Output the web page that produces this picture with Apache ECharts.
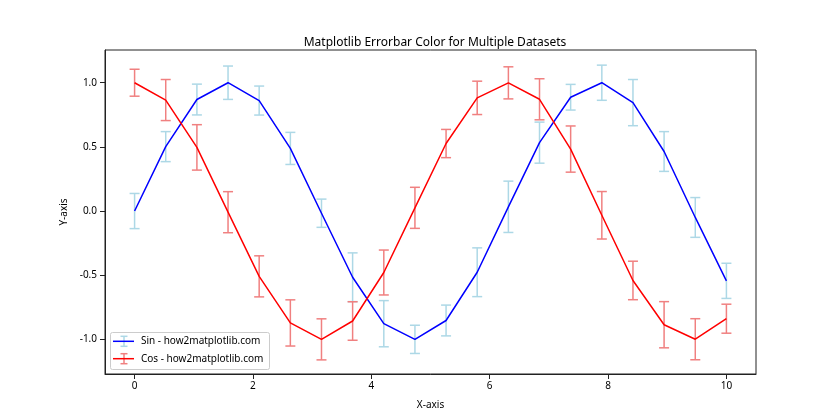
<!DOCTYPE html>
<html><head><meta charset="utf-8">
<script src="https://cdn.jsdelivr.net/npm/echarts@6/dist/echarts.min.js"></script>
<style>html,body{margin:0;padding:0;background:#fff}#c{width:840px;height:420px}</style>
</head><body><div id="c"></div>
<script>
var xValues = [0, 0.526, 1.053, 1.579, 2.105, 2.632, 3.158, 3.684, 4.211, 4.737, 5.263, 5.789, 6.316, 6.842, 7.368, 7.895, 8.421, 8.947, 9.474, 10];
var sinValues = [0, 0.502, 0.869, 1.0, 0.861, 0.488, -0.017, -0.516, -0.878, -1.0, -0.853, -0.477, 0.033, 0.533, 0.887, 1.0, 0.845, 0.464, -0.050, -0.544];
var cosValues = [1.0, 0.865, 0.496, -0.009, -0.509, -0.872, -1.0, -0.857, -0.479, 0.025, 0.526, 0.882, 0.999, 0.871, 0.483, -0.033, -0.541, -0.886, -0.999, -0.839];
var sinErrors = [0.137, 0.117, 0.12, 0.13, 0.113, 0.125, 0.11, 0.19, 0.18, 0.11, 0.12, 0.19, 0.2, 0.16, 0.10, 0.137, 0.18, 0.155, 0.155, 0.137];
var cosErrors = [0.105, 0.16, 0.177, 0.16, 0.16, 0.18, 0.16, 0.15, 0.175, 0.16, 0.11, 0.13, 0.125, 0.16, 0.18, 0.185, 0.15, 0.18, 0.16, 0.113];
var xTicks = [0, 2, 4, 6, 8, 10];
var yTicks = [-1.0, -0.5, 0.0, 0.5, 1.0];
var seriesNames = ['Sin - how2matplotlib.com', 'Cos - how2matplotlib.com'];

var FONT = 'Noto Sans';
function pairs(ys) { return xValues.map(function (x, i) { return [x, ys[i]]; }); }
function errData(ys, es) { return xValues.map(function (x, i) { return [x, ys[i], es[i]]; }); }
function errRender(color) {
  return function (params, api) {
    var x = api.value(0), y = api.value(1), e = api.value(2);
    var top = api.coord([x, y + e]), bot = api.coord([x, y - e]);
    var hw = 5;
    var st = { stroke: color, lineWidth: 1.5 };
    return { type: 'group', children: [
      { type: 'line', shape: { x1: top[0], y1: top[1], x2: bot[0], y2: bot[1] }, style: st },
      { type: 'line', shape: { x1: top[0] - hw, y1: top[1], x2: top[0] + hw, y2: top[1] }, style: st },
      { type: 'line', shape: { x1: bot[0] - hw, y1: bot[1], x2: bot[0] + hw, y2: bot[1] }, style: st }
    ]};
  };
}
function legendEntry(y, lineColor, errColor, label) {
  var cx = 124;
  return [
    { type: 'line', z: 101, shape: { x1: cx, y1: y - 5, x2: cx, y2: y + 5 }, style: { stroke: errColor, lineWidth: 1.5 } },
    { type: 'line', z: 101, shape: { x1: cx - 3.5, y1: y - 5, x2: cx + 3.5, y2: y - 5 }, style: { stroke: errColor, lineWidth: 1.5 } },
    { type: 'line', z: 101, shape: { x1: cx - 3.5, y1: y + 5, x2: cx + 3.5, y2: y + 5 }, style: { stroke: errColor, lineWidth: 1.5 } },
    { type: 'line', z: 102, shape: { x1: 113, y1: y, x2: 134, y2: y }, style: { stroke: lineColor, lineWidth: 1.5 } },
    { type: 'text', z: 102, x: 141, y: y, style: { text: label, fill: '#000', font: '10px "' + FONT + '"', textVerticalAlign: 'middle' } }
  ];
}

var chart = echarts.init(document.getElementById('c'), null, { renderer: 'canvas' });
chart.setOption({
  animation: false,
  backgroundColor: '#fff',
  title: { text: 'Matplotlib Errorbar Color for Multiple Datasets', left: 430, textAlign: 'center', top: 32,
    textStyle: { fontFamily: FONT, fontSize: 12, fontWeight: 'normal', color: '#000' } },
  grid: { left: 105, right: 84, top: 50, bottom: 46, show: true, borderColor: '#222', borderWidth: 1 },
  xAxis: { type: 'value', min: -0.5, max: 10.5, name: 'X-axis', nameLocation: 'middle', nameGap: 26,
    nameTextStyle: { fontFamily: FONT, fontSize: 10, color: '#000' },
    axisLine: { show: true, onZero: false, lineStyle: { color: '#222' } },
    axisTick: { show: true, length: 5, customValues: xTicks, lineStyle: { color: '#222' } },
    axisLabel: { customValues: xTicks, fontFamily: FONT, fontSize: 10, color: '#000', margin: 7 },
    splitLine: { show: false } },
  yAxis: { type: 'value', min: -1.27, max: 1.255, name: 'Y-axis', nameLocation: 'middle', nameGap: 36,
    nameTextStyle: { fontFamily: FONT, fontSize: 10, color: '#000' },
    axisLine: { show: true, onZero: false, lineStyle: { color: '#222' } },
    axisTick: { show: true, length: 5, customValues: yTicks, lineStyle: { color: '#222' } },
    axisLabel: { customValues: yTicks, fontFamily: FONT, fontSize: 10, color: '#000', margin: 8,
      formatter: function (v) { return v.toFixed(1); } },
    splitLine: { show: false } },
  series: [
    { type: 'custom', name: 'sinErr', data: errData(sinValues, sinErrors), renderItem: errRender('#add8e6'), z: 2, silent: true },
    { type: 'line', name: seriesNames[0], data: pairs(sinValues), showSymbol: false, lineStyle: { color: '#0000ff', width: 1.5 }, itemStyle: { color: '#0000ff' }, z: 3 },
    { type: 'custom', name: 'cosErr', data: errData(cosValues, cosErrors), renderItem: errRender('#f08080'), z: 4, silent: true },
    { type: 'line', name: seriesNames[1], data: pairs(cosValues), showSymbol: false, lineStyle: { color: '#ff0000', width: 1.5 }, itemStyle: { color: '#ff0000' }, z: 5 }
  ],
  graphic: [
    { type: 'rect', z: 100, shape: { x: 110.5, y: 332.5, width: 159, height: 37, r: 2 }, style: { fill: 'rgba(255,255,255,0.8)', stroke: '#ccc', lineWidth: 1 } }
  ].concat(legendEntry(341.3, '#0000ff', '#add8e6', seriesNames[0]), legendEntry(358.7, '#ff0000', '#f08080', seriesNames[1]))
});
</script></body></html>
